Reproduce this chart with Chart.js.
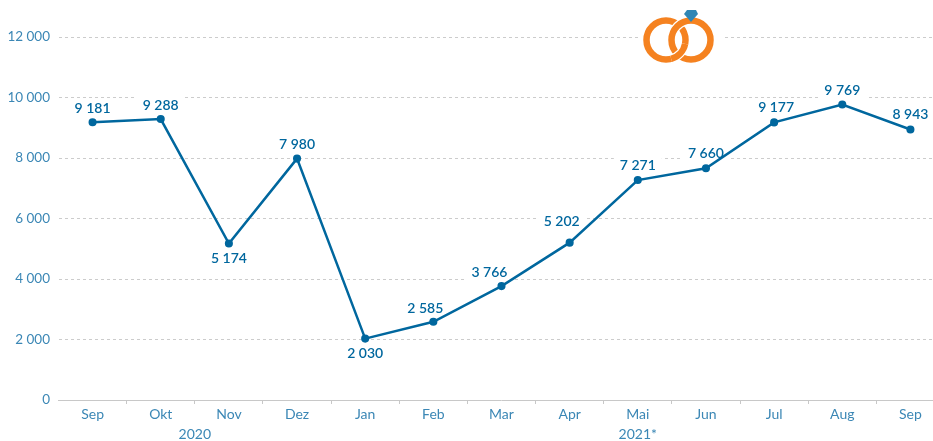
<!DOCTYPE html>
<html>
<head>
<meta charset="utf-8">
<style>
  html, body { margin: 0; padding: 0; background: #fff; overflow: hidden; }
  #wrap { width: 933px; height: 441px; overflow: hidden; }
</style>
<script src="https://cdn.jsdelivr.net/npm/chart.js@4"></script>
</head>
<body>
<div id="wrap"><canvas id="myChart" width="960" height="441" style="width:960px;height:441px"></canvas></div>
<script>
const months = ["Sep", "Okt", "Nov", "Dez", "Jan", "Feb", "Mar", "Apr", "Mai", "Jun", "Jul", "Aug", "Sep"];
const values = [9181, 9288, 5174, 7980, 2030, 2585, 3766, 5202, 7271, 7660, 9177, 9769, 8943];
const yearLabels = ["2020", "2021*"];
const yearSpans = [[0, 3], [4, 12]];
// label offsets from the point, in px
const labelDx = [0, 0, 0, 0, 0, -8, -12, -8, 0, 0, 2, 0, 0];
const labelDy = [-14, -13.5, 15, -14, 15, -13, -14, -21, -15, -15, -14.5, -14, -15];

const lineColor = "#00679e";
const tickColor = "#3b87b5";
const fontName = "Lato, 'Open Sans', sans-serif";

function fmt(n) {
  return String(n).replace(/\B(?=(\d{3})+$)/g, " ");
}

const pointLabels = {
  id: "pointLabels",
  // white box breaks the gridlines behind the labels, line stays on top
  beforeDatasetsDraw(chart) {
    const ctx = chart.ctx;
    const meta = chart.getDatasetMeta(0);
    ctx.save();
    ctx.font = "600 14px " + fontName;
    ctx.fillStyle = "#fff";
    meta.data.forEach((p, i) => {
      const w = ctx.measureText(fmt(values[i])).width;
      ctx.fillRect(p.x + labelDx[i] - w / 2 - 6, p.y + labelDy[i] - 9, w + 12, 18);
    });
    ctx.restore();
  },
  afterDatasetsDraw(chart) {
    const ctx = chart.ctx;
    const meta = chart.getDatasetMeta(0);
    ctx.save();
    ctx.font = "600 14px " + fontName;
    ctx.textAlign = "center";
    ctx.textBaseline = "middle";
    ctx.fillStyle = lineColor;
    meta.data.forEach((p, i) => {
      ctx.fillText(fmt(values[i]), p.x + labelDx[i], p.y + labelDy[i]);
    });
    ctx.restore();
  }
};

const yearAxis = {
  id: "yearAxis",
  afterDraw(chart) {
    const ctx = chart.ctx;
    const x = chart.scales.x;
    const step = x.getPixelForValue(1) - x.getPixelForValue(0);
    ctx.save();
    ctx.font = "14px " + fontName;
    ctx.fillStyle = tickColor;
    ctx.textAlign = "center";
    ctx.textBaseline = "middle";
    yearLabels.forEach((label, i) => {
      const a = x.getPixelForValue(yearSpans[i][0]) - step / 2;
      const b = x.getPixelForValue(yearSpans[i][1]) + step / 2;
      ctx.fillText(label, (a + b) / 2, 434);
    });
    ctx.restore();
  }
};

function ringArc(ctx, cx, start, end) {
  ctx.beginPath();
  ctx.arc(cx, 40, 19.5, start, end);
  ctx.strokeStyle = "#fff";
  ctx.lineWidth = 9;
  ctx.stroke();
  ctx.strokeStyle = "#f58220";
  ctx.lineWidth = 6.5;
  ctx.stroke();
}

// wedding rings logo at the top
const rings = {
  id: "rings",
  afterDraw(chart) {
    const ctx = chart.ctx;
    ctx.save();
    ctx.fillStyle = "#fff";
    ctx.fillRect(638, 8, 84, 58);
    ringArc(ctx, 666, 0, Math.PI * 2);
    ringArc(ctx, 691, 0, Math.PI * 2);
    // left ring goes over the right one at the lower crossing
    ringArc(ctx, 666, 0.2, 1.3);
    ctx.fillStyle = "#2f86b5";
    ctx.beginPath();
    ctx.moveTo(687, 10);
    ctx.lineTo(696, 10);
    ctx.lineTo(698, 14);
    ctx.lineTo(691, 22);
    ctx.lineTo(684, 14);
    ctx.closePath();
    ctx.fill();
    ctx.restore();
  }
};

new Chart(document.getElementById("myChart").getContext("2d"), {
  type: "line",
  data: {
    labels: months,
    datasets: [{
      data: values,
      borderColor: lineColor,
      backgroundColor: lineColor,
      borderWidth: 2.5,
      pointRadius: 2.8,
      pointHoverRadius: 2.8,
      tension: 0
    }]
  },
  options: {
    responsive: false,
    animation: false,
    layout: { padding: { top: 37, right: 15.5, bottom: 0, left: 0 } },
    plugins: { legend: { display: false }, tooltip: { enabled: false } },
    scales: {
      x: {
        offset: true,
        afterFit(axis) { axis.height = 41; },
        border: { color: "#c8c8c8", width: 1 },
        grid: {
          drawOnChartArea: false,
          tickLength: 4,
          offset: true,
          tickColor: (c) => (c.index === 0 ? "transparent" : "#c8c8c8")
        },
        ticks: { color: tickColor, font: { family: fontName, size: 14 }, padding: 2, autoSkip: false, maxRotation: 0 }
      },
      y: {
        min: 0,
        max: 12000,
        afterFit(axis) { axis.width = 58.5; },
        border: { display: false, dash: [3, 3] },
        grid: { color: "#cccccc", drawTicks: false, lineWidth: 1 },
        ticks: {
          stepSize: 2000,
          color: tickColor,
          padding: 8.5,
          font: { family: fontName, size: 13.5 },
          callback: (v) => fmt(v)
        }
      }
    }
  },
  plugins: [pointLabels, yearAxis, rings]
});
</script>
</body>
</html>
